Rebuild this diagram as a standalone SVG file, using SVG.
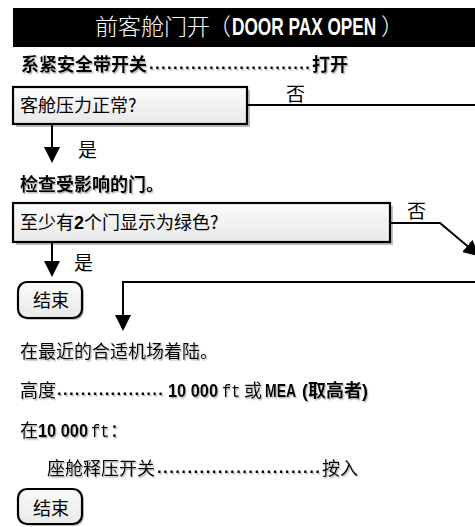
<svg xmlns="http://www.w3.org/2000/svg" width="475" height="527" viewBox="0 0 475 527">
<style>
  .cjk { font-family: "Noto Sans CJK SC", "Liberation Sans", sans-serif; font-size: 18px; fill: #000; }
  .lbl { font-size: 19px; }
  .b { font-weight: 700; }
  .lat { font-family: "Liberation Sans", "Noto Sans CJK SC", sans-serif; font-weight: 700; }
  .mono { font-family: "Liberation Mono", monospace; font-weight: 400; }
  .dots { font-family: "Liberation Sans", sans-serif; font-weight: 700; font-size: 17px; }
  .sh { filter: url(#tshadow); }
  .box { fill: url(#boxfill); stroke: #000; stroke-width: 2.2; }
  .boxsh { fill: #bdbdbd; }
  .conn { fill: none; stroke: #000; stroke-width: 2; }
  .title { font-family: "Noto Sans CJK SC", "Liberation Sans", sans-serif; font-size: 23px; fill: #fff; font-weight: 300; }
  .title.lat { font-family: "Liberation Sans", sans-serif; font-weight: 700; }
</style>
<defs>
  <linearGradient id="boxfill" x1="0" y1="0" x2="0" y2="1">
    <stop offset="0" stop-color="#fbfbfb"/>
    <stop offset="1" stop-color="#e8e8e8"/>
  </linearGradient>
  <filter id="tshadow" x="-5%" y="-20%" width="115%" height="150%">
    <feDropShadow dx="1.2" dy="1.5" stdDeviation="0.7" flood-color="#888" flood-opacity="0.6"/>
  </filter>
  <marker id="arr" markerUnits="userSpaceOnUse" markerWidth="17" markerHeight="16" refX="14" refY="8" orient="auto">
    <path d="M0,0 L16,8 L0,16 z" fill="#000"/>
  </marker>
</defs>
<rect width="475" height="527" fill="#fff"/>

<g id="header">
  <rect x="13" y="8" width="462" height="39" fill="#000"/>
  <text class="title" x="95" y="35">前客舱门开</text>
  <text class="title" x="208" y="35">（</text>
  <text class="title lat" transform="translate(232,35) scale(0.75,1)" x="0" y="0">DOOR PAX OPEN</text>
  <text class="title" x="381" y="35">）</text>
</g>

<g id="step-seatbelt" class="sh">
  <text class="cjk b" x="21" y="71">系紧安全带开关</text>
  <text class="dots" x="149" y="69" textLength="161" lengthAdjust="spacing">...........................</text>
  <text class="cjk b" x="312" y="71">打开</text>
</g>

<g id="q-cabin-pressure">
  <rect class="boxsh" x="16" y="90" width="234" height="37"/>
  <rect class="box" x="13" y="87" width="234" height="37"/>
  <text class="cjk" x="20" y="112">客舱压力正常?</text>
</g>

<g id="step-check-doors" class="sh">
  <text class="cjk b" x="20" y="191">检查受影响的门。</text>
</g>

<g id="q-two-doors-green">
  <rect class="boxsh" x="16" y="206" width="377" height="39"/>
  <rect class="box" x="13" y="203" width="377" height="39"/>
  <text class="cjk" x="20" y="229">至少有<tspan class="lat">2</tspan>个门显示为绿色?</text>
</g>

<g id="end-1">
  <rect class="boxsh" x="20" y="284" width="64" height="36" rx="9"/>
  <rect class="box" x="18" y="282" width="64" height="36" rx="9"/>
  <text class="cjk" x="33" y="307">结束</text>
</g>

<g id="step-land" class="sh">
  <text class="cjk" x="20" y="358">在最近的合适机场着陆。</text>
</g>

<g id="step-altitude" class="sh">
  <text class="cjk" x="20" y="397">高度</text>
  <text class="dots" x="57" y="395" textLength="106" lengthAdjust="spacing">..................</text>
  <text class="cjk lat" transform="translate(168,397) scale(0.91,1)" x="0" y="0">10 000</text>
  <text class="cjk mono" transform="translate(222,397) scale(0.85,1)" x="0" y="0">ft</text>
  <text class="cjk" x="244" y="397">或</text>
  <text class="cjk lat" transform="translate(265,397) scale(0.78,1)" x="0" y="0">MEA</text>
  <text class="cjk b" x="302" y="397"><tspan class="lat">(</tspan>取高者<tspan class="lat">)</tspan></text>
</g>

<g id="step-at-10000" class="sh">
  <text class="cjk" x="20" y="437">在</text>
  <text class="cjk lat" transform="translate(38,437) scale(0.91,1)" x="0" y="0">10 000</text>
  <text class="cjk mono" transform="translate(91,437) scale(0.85,1)" x="0" y="0">ft</text>
  <text class="cjk" x="110" y="437">：</text>
</g>

<g id="step-depress" class="sh">
  <text class="cjk" x="47" y="475">座舱释压开关</text>
  <text class="dots" x="157" y="473" textLength="163" lengthAdjust="spacing">...........................</text>
  <text class="cjk" x="322" y="475">按入</text>
</g>

<g id="end-2">
  <rect class="boxsh" x="20" y="491" width="64" height="35" rx="9"/>
  <rect class="box" x="18" y="489" width="64" height="35" rx="9"/>
  <text class="cjk" x="33" y="515">结束</text>
</g>

<g id="connectors">
  <path class="conn" d="M247,105 L475,105"/>
  <text class="cjk lbl" x="286" y="101">否</text>
  <path class="conn" d="M52,124 L52,161" marker-end="url(#arr)"/>
  <text class="cjk lbl" x="78" y="157">是</text>
  <path class="conn" d="M390,223 L440,223 L478,255" marker-end="url(#arr)"/>
  <text class="cjk lbl" x="407" y="218">否</text>
  <path class="conn" d="M52,242 L52,275" marker-end="url(#arr)"/>
  <text class="cjk lbl" x="74" y="270">是</text>
  <path class="conn" d="M475,282 L123,282 L123,329" marker-end="url(#arr)"/>
</g>
</svg>
